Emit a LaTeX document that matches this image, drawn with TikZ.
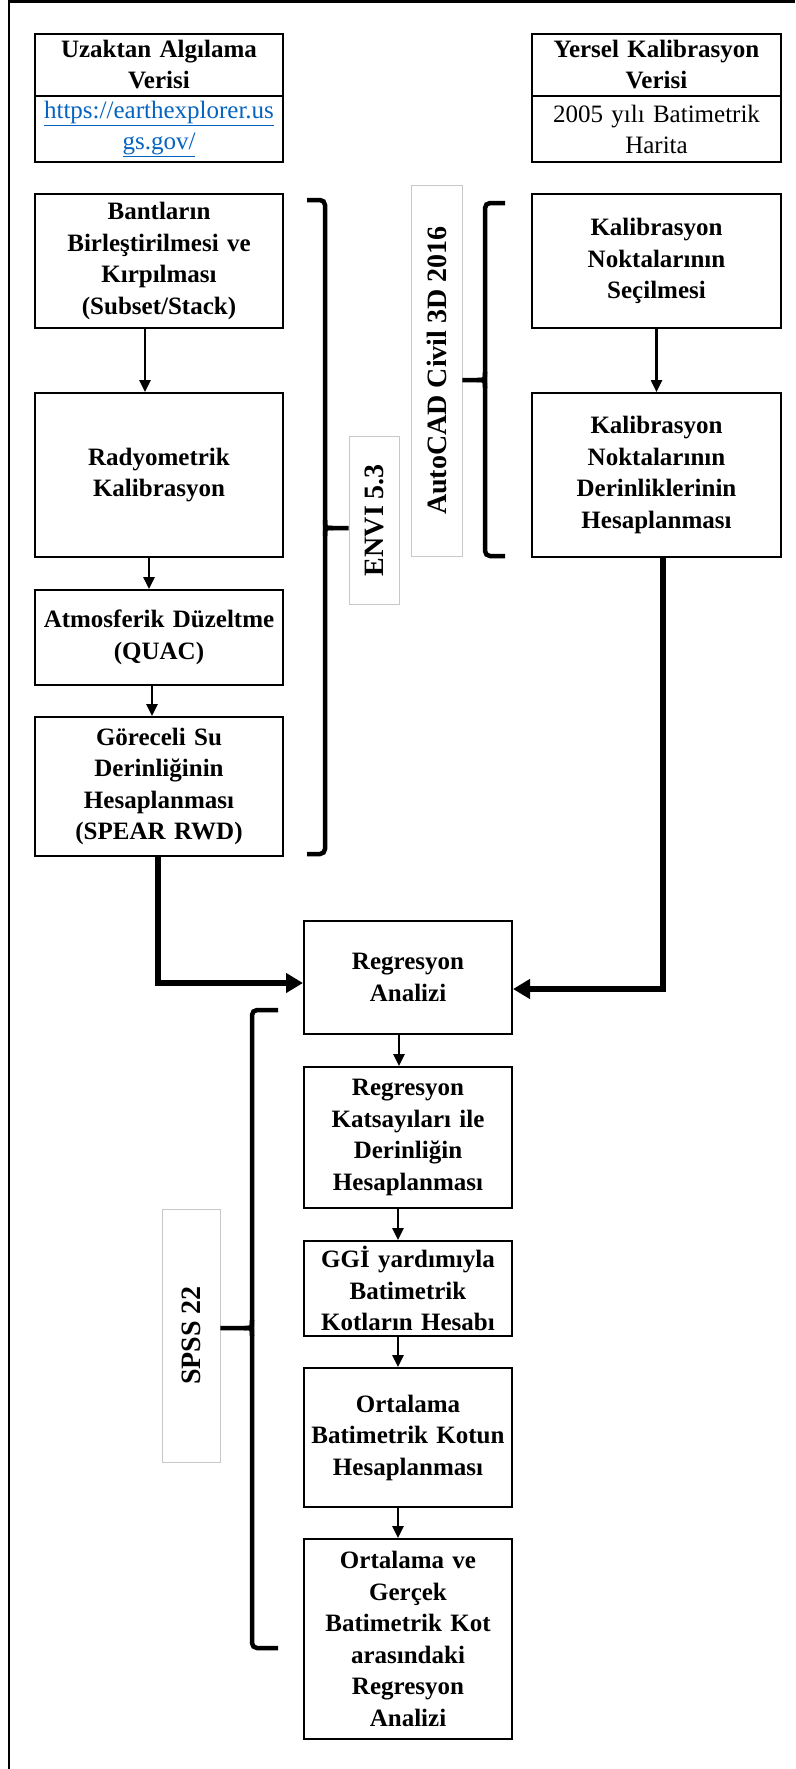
\documentclass[tikz,border=0pt]{standalone}
\usepackage{fontspec}
\setmainfont{Liberation Serif}
\usetikzlibrary{arrows.meta}
\definecolor{linkblue}{HTML}{0563C1}
\definecolor{lblgray}{HTML}{C8C8C8}
\begin{document}
\begin{tikzpicture}[x=1pt,y=-1pt,
  box/.style={draw=black, line width=2pt, inner sep=0pt, align=center,
    font=\bfseries\fontsize{25}{31.5}\selectfont},
  lbox/.style={box, minimum width=248pt, text width=244pt},
  rbox/.style={box, minimum width=249pt, text width=245pt},
  cbox/.style={box, minimum width=208pt, text width=204pt},
  hdrbox/.style={draw=black, line width=1.6pt, inner sep=0pt, align=center,
    minimum height=62pt, font=\bfseries\fontsize{25}{31}\selectfont},
  subbox/.style={draw=black, line width=1.6pt, inner sep=0pt, align=center,
    minimum height=66pt, font=\fontsize{25}{31}\selectfont},
  lbl/.style={draw=lblgray, line width=0.8pt, inner sep=0pt, rotate=90,
    font=\bfseries\fontsize{28}{32}\selectfont},
  thinarrow/.style={line width=2.5pt, -{Triangle[width=11pt,length=12pt]}},
  thickarrow/.style={line width=5.5pt, -{Triangle[width=19pt,length=17pt]}},
  brk/.style={line width=4.5pt, rounded corners=5pt},
  tick/.style={line width=4.5pt},
  frame/.style={line width=2.5pt}
]
\useasboundingbox (0,0) rectangle (795,1769);
\draw[frame] (9,1769) -- (9,1.5) -- (795,1.5);

% top data boxes
\node[hdrbox, minimum width=248pt, text width=244pt] (hdrL) at (159,65) {Uzaktan Algılama\\Verisi};
\node[subbox, minimum width=248pt, text width=244pt, text=linkblue] (subL) at (159,129)
  {\underline{https://earthexplorer.us}\\\underline{gs.gov/}};
\node[hdrbox, minimum width=249pt, text width=245pt] (hdrR) at (656.5,65) {Yersel Kalibrasyon\\Verisi};
\node[subbox, minimum width=249pt, text width=245pt] (subR) at (656.5,129) {2005 yılı Batimetrik\\Harita};

% left column
\node[lbox, minimum height=134pt] (bant) at (159,261) {Bantların\\Birleştirilmesi ve\\Kırpılması\\(Subset/Stack)};
\node[lbox, minimum height=164pt] (rady) at (159,475) {Radyometrik\\Kalibrasyon};
\node[lbox, minimum height=95pt] (atmo) at (159,637.5) {Atmosferik Düzeltme\\(QUAC)};
\node[lbox, minimum height=139pt] (gore) at (159,786.5) {Göreceli Su\\Derinliğinin\\Hesaplanması\\(SPEAR RWD)};

% right column
\node[rbox, minimum height=134pt] (kal1) at (656.5,261) {Kalibrasyon\\Noktalarının\\Seçilmesi};
\node[rbox, minimum height=164pt] (kal2) at (656.5,475) {Kalibrasyon\\Noktalarının\\Derinliklerinin\\Hesaplanması};

% centre column
\node[cbox, minimum height=113pt] (reg) at (408,977.5) {Regresyon\\Analizi};
\node[cbox, minimum height=141pt] (kats) at (408,1137.5) {Regresyon\\Katsayıları ile\\Derinliğin\\Hesaplanması};
\node[cbox, minimum height=95pt] (ggi) at (408,1288.5) {GGİ yardımıyla\\Batimetrik\\Kotların Hesabı};
\node[cbox, minimum height=139pt] (orta) at (408,1437.5) {Ortalama\\Batimetrik Kotun\\Hesaplanması};
\node[cbox, minimum height=200pt] (last) at (408,1639) {Ortalama ve\\Gerçek\\Batimetrik Kot\\arasındaki\\Regresyon\\Analizi};

% software labels
\node[lbl, minimum width=168pt, minimum height=50pt] (envi) at (374,520) {ENVI 5.3};
\node[lbl, minimum width=371pt, minimum height=51pt] (acad) at (436.5,370.5) {AutoCAD Civil 3D 2016};
\node[lbl, minimum width=253pt, minimum height=58pt] (spss) at (191,1335.5) {SPSS 22};

% brackets
\draw[brk] (307,200) -- (325,200) -- (325,854) -- (307,854);
\draw[tick] (325,520) .. controls (325,528) .. (333,528) -- (envi.north |- 0,528);
\draw[tick] (325,536) .. controls (325,528) .. (333,528);
\draw[brk] (505,203) -- (485,203) -- (485,556) -- (505,556);
\draw[tick] (485,372) .. controls (485,380) .. (477,380) -- (acad.south |- 0,380);
\draw[tick] (485,388) .. controls (485,380) .. (477,380);
\draw[brk] (278,1010) -- (252,1010) -- (252,1648) -- (278,1648);
\draw[tick] (252,1320) .. controls (252,1328) .. (244,1328) -- (spss.south |- 0,1328);
\draw[tick] (252,1336) .. controls (252,1328) .. (244,1328);

% arrows
\draw[thinarrow] ([xshift=-14pt]bant.south) -- ([xshift=-14pt]rady.north);
\draw[thinarrow] ([xshift=-10pt]rady.south) -- ([xshift=-10pt]atmo.north);
\draw[thinarrow] ([xshift=-7pt]atmo.south) -- ([xshift=-7pt]gore.north);
\draw[thinarrow] (kal1.south) -- (kal2.north);
\draw[thinarrow] ([xshift=-9pt]reg.south) -- ([xshift=-9pt]kats.north);
\draw[thinarrow] ([xshift=-10pt]kats.south) -- ([xshift=-10pt]ggi.north);
\draw[thinarrow] ([xshift=-10pt]ggi.south) -- ([xshift=-10pt]orta.north);
\draw[thinarrow] ([xshift=-10pt]orta.south) -- ([xshift=-10pt]last.north);
\draw[thickarrow] ([xshift=-1pt]gore.south) |- ([yshift=-5.5pt]reg.west);
\draw[thickarrow] ([xshift=6.5pt]kal2.south) |- ([yshift=-11.5pt]reg.east);
\end{tikzpicture}
\end{document}
